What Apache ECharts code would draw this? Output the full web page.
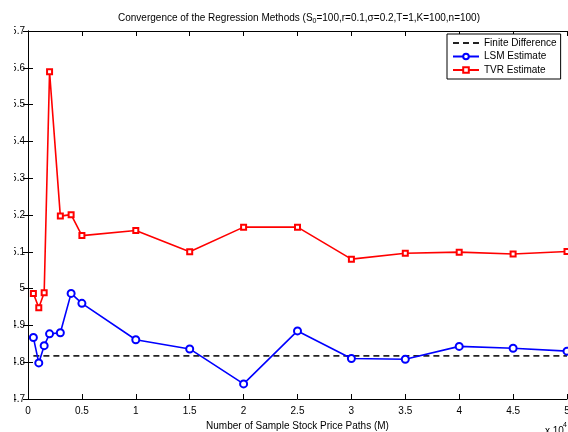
<!DOCTYPE html>
<html>
<head>
<meta charset="utf-8">
<script src="https://cdn.jsdelivr.net/npm/echarts@6/dist/echarts.min.js"></script>
<style>
  html, body { margin: 0; padding: 0; background: #fff; overflow: hidden; }
  #chart { position: absolute; left: 14px; top: 0; width: 554px; height: 432px; }
</style>
</head>
<body>
<div id="chart"></div>
<script>
// Number of simulated paths M used for each estimate
const samplePaths = [500, 1000, 1500, 2000, 3000, 4000, 5000, 10000, 15000, 20000,
                     25000, 30000, 35000, 40000, 45000, 50000];
// Option price estimates per method
const lsmEstimate = [4.867, 4.798, 4.845, 4.877, 4.880, 4.987, 4.960, 4.861, 4.836, 4.741,
                     4.885, 4.810, 4.808, 4.843, 4.838, 4.830];
const tvrEstimate = [4.987, 4.948, 4.989, 5.589, 5.197, 5.201, 5.144, 5.158, 5.100, 5.167,
                     5.167, 5.080, 5.096, 5.099, 5.094, 5.101];
// Reference price from the finite difference scheme
const finiteDifference = 4.817;

const seriesNames = ['Finite Difference', 'LSM Estimate', 'TVR Estimate'];
const xTickValues = [0, 0.5, 1, 1.5, 2, 2.5, 3, 3.5, 4, 4.5, 5];   // in units of 10^4
const yTickValues = [4.7, 4.8, 4.9, 5.0, 5.1, 5.2, 5.3, 5.4, 5.5, 5.6, 5.7];

const FONT = '"Liberation Sans", Arial, Helvetica, sans-serif';
const pair = (xs, ys) => xs.map((x, i) => [x, ys[i]]);

const chart = echarts.init(document.getElementById('chart'), null, { renderer: 'canvas' });

const tickStyle = { show: true, inside: true, length: 5, lineStyle: { color: '#000', width: 1 } };
const lineAxis = { show: true, lineStyle: { color: '#000', width: 1 } };
const baseText = { fontFamily: FONT, fontSize: 10, color: '#000', fontWeight: 'normal' };

chart.setOption({
  animation: false,
  backgroundColor: '#fff',
  title: {
    text: '{a|Convergence of the Regression Methods (S}{s|0}{a|=100,r=0.1,σ=0.2,T=1,K=100,n=100)}',
    left: 280,
    top: 6,
    textAlign: 'center',
    textStyle: {
      fontWeight: 'normal',
      rich: {
        a: { ...baseText, lineHeight: 14 },
        s: { ...baseText, fontSize: 7, lineHeight: 14, padding: [6, 0, 0, 0] }
      }
    }
  },
  legend: {
    data: [
      { name: seriesNames[0], itemStyle: { opacity: 0 } },
      { name: seriesNames[1] },
      { name: seriesNames[2] }
    ],
    orient: 'vertical',
    left: 433,
    top: 34,
    padding: [4, 4, 4, 5],
    itemGap: 3.5,
    itemWidth: 26,
    itemHeight: 7,
    borderColor: '#000',
    borderWidth: 1,
    borderRadius: 0,
    backgroundColor: '#fff',
    textStyle: { ...baseText }
  },
  grid: { left: 14, right: 1, top: 31, bottom: 33, outerBoundsMode: 'none', containLabel: false },
  xAxis: [{
    type: 'value',
    min: xTickValues[0] * 1e4,
    max: xTickValues[xTickValues.length - 1] * 1e4,
    interval: 5000,
    position: 'bottom',
    name: 'Number of Sample Stock Price Paths (M)',
    nameLocation: 'middle',
    nameGap: 19,
    nameTextStyle: { ...baseText },
    axisLine: lineAxis,
    axisTick: tickStyle,
    splitLine: { show: false },
    axisLabel: {
      ...baseText, margin: 7,
      formatter: v => String(Math.round(v / 1e3) / 10)
    }
  }, {
    type: 'value',
    min: 0, max: 50000, interval: 5000,
    position: 'top',
    axisLine: lineAxis,
    axisTick: tickStyle,
    axisLabel: { show: false },
    splitLine: { show: false }
  }],
  yAxis: [{
    type: 'value',
    min: yTickValues[0],
    max: yTickValues[yTickValues.length - 1],
    interval: 0.1,
    position: 'left',
    axisLine: lineAxis,
    axisTick: tickStyle,
    splitLine: { show: false },
    axisLabel: {
      ...baseText, margin: 3,
      formatter: v => String(Math.round(v * 10) / 10)
    }
  }, {
    type: 'value',
    min: 4.7, max: 5.7, interval: 0.1,
    position: 'right',
    axisLine: lineAxis,
    axisTick: tickStyle,
    axisLabel: { show: false },
    splitLine: { show: false }
  }],
  graphic: [{
    type: 'text',
    left: 531,
    top: 426,
    style: { text: 'x 10', font: '10px ' + FONT, fill: '#000' }
  }, {
    type: 'text',
    left: 549,
    top: 422,
    style: { text: '4', font: '7px ' + FONT, fill: '#000' }
  }],
  series: [{
    name: seriesNames[0],
    type: 'line',
    data: pair(samplePaths, samplePaths.map(() => finiteDifference)),
    symbol: 'none',
    lineStyle: { color: '#222', width: 1.8, type: [6, 4] },
    itemStyle: { color: '#222' },
    z: 3
  }, {
    name: seriesNames[1],
    type: 'line',
    data: pair(samplePaths, lsmEstimate),
    symbol: 'emptyCircle',
    symbolSize: 7,
    lineStyle: { color: '#0000ff', width: 1.6 },
    itemStyle: { color: '#0000ff', borderColor: '#0000ff', borderWidth: 1.5 },
    z: 4
  }, {
    name: seriesNames[2],
    type: 'line',
    data: pair(samplePaths, tvrEstimate),
    symbol: 'emptyRect',
    symbolSize: 5,
    lineStyle: { color: '#ff0000', width: 1.6 },
    itemStyle: { color: '#ff0000', borderColor: '#ff0000', borderWidth: 1.5 },
    z: 5
  }]
});
</script>
</body>
</html>
